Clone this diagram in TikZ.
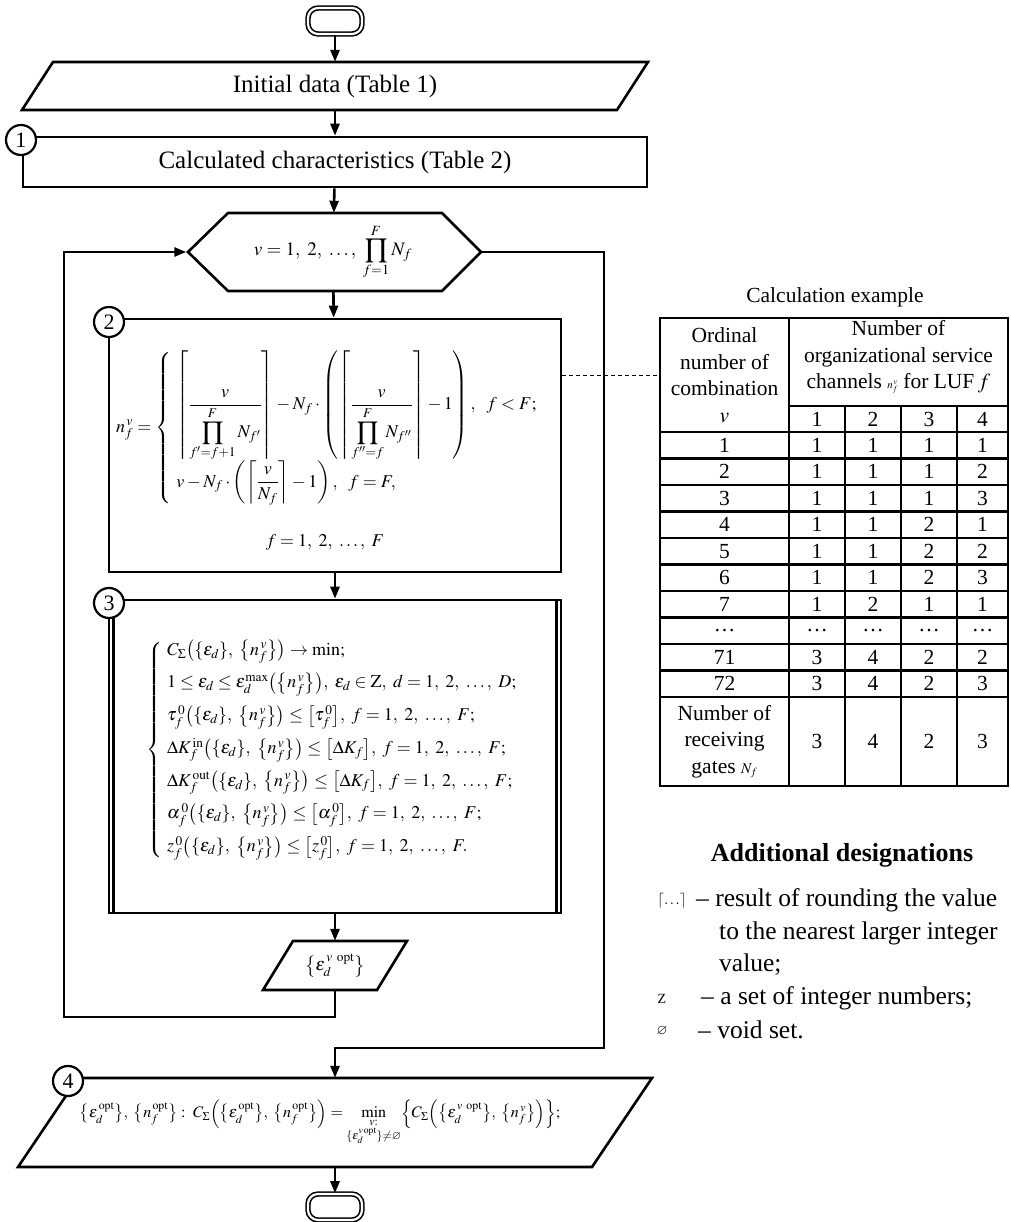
\documentclass[tikz,border=0pt]{standalone}
\usepackage{amsmath}
\usepackage{amssymb}
\usepackage{mathptmx}
\usepackage{fontspec}
\setmainfont{Liberation Serif}
\usepackage{tikz}
\usetikzlibrary{calc}
\usetikzlibrary{arrows.meta,positioning}

\newcommand{\epsD}{\{\varepsilon_d\}}
\newcommand{\nFV}{\bigl\{n_f^{\,v}\bigr\}}

\begin{document}
\begin{tikzpicture}[x=1pt, y=-1pt,
    every node/.style={font=\fontsize{25}{29}\selectfont},
    blk/.style={draw, line width=2.6pt, inner sep=0pt},
    ln/.style={line width=2.6pt, line join=miter},
    arr/.style={line width=2.6pt, -{Triangle[length=12pt,width=9pt]}},
    num/.style={circle, draw, line width=2.2pt, fill=white, inner sep=0pt, minimum size=30pt, font=\fontsize{22}{22}\selectfont},
    term/.style={draw, double, double distance=2.2pt, line width=1.6pt, rounded corners=10pt, minimum width=54pt, minimum height=26pt},
    tab/.style={line width=2.2pt},
    cell/.style={inner sep=0pt, align=center, font=\fontsize{21.5}{26.5}\selectfont},
    frm/.style={inner sep=0pt, font=\fontsize{18}{21}\selectfont},
    dsg/.style={anchor=west, inner sep=0pt, font=\fontsize{25.5}{30}\selectfont}]
    \useasboundingbox (0,0) rectangle (1010,1222);

    % flowchart
    \node[term] (start) at (335,21) {};
    \node[inner sep=0pt, minimum width=560pt, minimum height=48pt] (init) at (335,86) {Initial data (Table 1)};
    \draw[ln] (53,62) -- (648,62) -- (617,110) -- (22,110) -- cycle;
    \node[blk, minimum width=624pt, minimum height=50pt] (calc) at (335,162) {Calculated characteristics (Table 2)};

    \node[frm, font=\fontsize{19}{22}\selectfont, minimum width=293pt, minimum height=78pt] (vloop) at (333,252) {$\displaystyle v = 1,\ 2,\ \ldots,\ \prod_{f=1}^{F} N_f$};
    \draw[ln] (188,252) -- (228,213) -- (442,213) -- (481,252) -- (442,291) -- (228,291) -- cycle;

    \node[blk, minimum width=452pt, minimum height=253pt] (split) at (335,445.5) {};
    \node[frm, anchor=west] (nfv) at (116,428) {$\displaystyle n_f^{\,v} = \left\{\begin{array}{l}
        \left\lceil \dfrac{v}{\displaystyle\prod_{f'=f+1}^{F} N_{f'}} \right\rceil - N_f \cdot \left( \left\lceil \dfrac{v}{\displaystyle\prod_{f''=f}^{F} N_{f''}} \right\rceil - 1 \right),\ \ f < F;\\[18pt]
        v - N_f \cdot \left( \left\lceil \dfrac{v}{N_f} \right\rceil - 1 \right),\ \ f = F,
        \end{array}\right.$};
    \node[frm] (frange) at (325,542) {$f = 1,\ 2,\ \ldots,\ F$};

    \node[blk, minimum width=452pt, minimum height=313pt] (optim) at (335,756.5) {};
    \draw[ln] ([xshift=6pt]optim.north west) -- ([xshift=6pt]optim.south west);
    \draw[ln] ([xshift=-6pt]optim.north east) -- ([xshift=-6pt]optim.south east);
    \node[frm, anchor=west] (task) at (146,750) {$\left\{\begin{array}{l}
        C_\Sigma\bigl(\epsD,\ \nFV\bigr) \to \min;\\[11pt]
        1 \le \varepsilon_d \le \varepsilon_d^{\max}\bigl(\nFV\bigr),\ \varepsilon_d \in \mathrm{Z},\ d = 1,\ 2,\ \ldots,\ D;\\[11pt]
        \tau_f^{\,0}\bigl(\epsD,\ \nFV\bigr) \le \bigl[\tau_f^{\,0}\bigr],\ f = 1,\ 2,\ \ldots,\ F;\\[11pt]
        \Delta K_f^{\,\mathrm{in}}\bigl(\epsD,\ \nFV\bigr) \le \bigl[\Delta K_f\bigr],\ f = 1,\ 2,\ \ldots,\ F;\\[11pt]
        \Delta K_f^{\,\mathrm{out}}\bigl(\epsD,\ \nFV\bigr) \le \bigl[\Delta K_f\bigr],\ f = 1,\ 2,\ \ldots,\ F;\\[11pt]
        \alpha_f^{\,0}\bigl(\epsD,\ \nFV\bigr) \le \bigl[\alpha_f^{\,0}\bigr],\ f = 1,\ 2,\ \ldots,\ F;\\[11pt]
        z_f^{\,0}\bigl(\epsD,\ \nFV\bigr) \le \bigl[z_f^{\,0}\bigr],\ f = 1,\ 2,\ \ldots,\ F.
        \end{array}\right.$};

    \node[frm, minimum width=110pt, minimum height=49pt] (eopt) at (335,965.5) {$\bigl\{\varepsilon_d^{\,v\ \mathrm{opt}}\bigr\}$};
    \draw[ln] (293,941) -- (407,941) -- (377,990) -- (263,990) -- cycle;

    \node[frm, font=\fontsize{16}{19}\selectfont, minimum width=560pt, minimum height=89pt] (result) at (335,1122.5) {$\displaystyle \bigl\{\varepsilon_d^{\,\mathrm{opt}}\bigr\},\ \bigl\{n_f^{\,\mathrm{opt}}\bigr\}:\ C_\Sigma\Bigl(\bigl\{\varepsilon_d^{\,\mathrm{opt}}\bigr\},\ \bigl\{n_f^{\,\mathrm{opt}}\bigr\}\Bigr) = \min_{\substack{v:\\ \{\varepsilon_d^{v\,\mathrm{opt}}\} \ne \varnothing}} \Bigl\{C_\Sigma\Bigl(\bigl\{\varepsilon_d^{\,v\ \mathrm{opt}}\bigr\},\ \nFV\Bigr)\Bigr\};$\hspace*{30pt}};
    \draw[ln] (78,1078) -- (652,1078) -- (592,1167) -- (18,1167) -- cycle;
    \node[term] (stop) at (335,1207) {};

    \node[num] (c1) at (21,140) {1};
    \node[num] (c2) at (109,322) {2};
    \node[num] (c3) at (109,603) {3};
    \node[num] (c4) at (68,1081) {4};

    \draw[arr] (start) -- (init);
    \draw[arr] (init) -- (calc);
    \draw[arr] (calc) -- (vloop);
    \draw[arr] (vloop) -- (split);
    \draw[arr] (split) -- (optim);
    \draw[arr] (optim) -- (eopt);
    \coordinate (back) at (64,1017);
    \draw[arr] (eopt) |- (back) |- (vloop.west);
    \coordinate (exit) at (604,1048);
    \draw[arr] (vloop.east) -| (exit) -| (result);
    \draw[arr] (result) -- (stop);

    % calculation example
    \node[cell] (title) at (835,297) {Calculation example};
    \node[cell, minimum width=129pt, minimum height=114pt] (ord) at (724.5,375) {Ordinal\\number of\\combination\\$v$};
    \node[cell] (chan) at (898.5,357) {Number of\\organizational service\\channels {\fontsize{11}{11}\selectfont$n_f^{\,v}$} for LUF\,$f$};
    \draw[line width=1pt, dash pattern=on 4pt off 3pt] (split.east |- ord.west) -- (ord.west);
    \draw[tab] (660,318) rectangle (1008,786);
    \draw[tab] (789,318) -- (789,786);
    \draw[tab] (789,406) -- (1008,406);
    \foreach \x in {845,901,957}
        \draw[tab] (\x,406) -- (\x,786);
    \foreach \k in {0,...,10}
        \draw[tab] (660,{432+26.5*\k}) -- (1008,{432+26.5*\k});
    \foreach \n/\x in {1/817,2/873,3/929,4/982.5}
        \node[cell] (h\n) at (\x,419) {\n};
    \foreach \v/\a/\b/\c/\d [count=\i] in {1/1/1/1/1, 2/1/1/1/2, 3/1/1/1/3, 4/1/1/2/1, 5/1/1/2/2, 6/1/1/2/3, 7/1/2/1/1, \dots/\dots/\dots/\dots/\dots, 71/3/4/2/2, 72/3/4/2/3} {
        \node[cell] (v\i) at (724.5,{418.75+26.5*\i}) {\v};
        \node[cell] (a\i) at (817,{418.75+26.5*\i}) {\a};
        \node[cell] (b\i) at (873,{418.75+26.5*\i}) {\b};
        \node[cell] (c\i) at (929,{418.75+26.5*\i}) {\c};
        \node[cell] (d\i) at (982.5,{418.75+26.5*\i}) {\d};
    }
    \node[cell] (gates) at (724.5,741.5) {Number of\\receiving\\gates {\fontsize{15}{15}\selectfont$N_f$}};
    \foreach \n/\x/\g in {1/817/3, 2/873/4, 3/929/2, 4/982.5/3}
        \node[cell] (g\n) at (\x,741.5) {\g};

    % additional designations
    \node[font=\bfseries\fontsize{26}{30}\selectfont] (add) at (842,855) {Additional designations};
    \node[inner sep=0pt, font=\fontsize{15}{15}\selectfont] (s1) at (672,901) {$\lceil\ldots\rceil$};
    \node[dsg] (d1) at (696,900) {-- result of rounding the value};
    \node[dsg] (d1b) at (719,933) {to the nearest larger integer};
    \node[dsg] (d1c) at (719,965) {value;};
    \node[inner sep=0pt, font=\fontsize{14}{14}\selectfont] (s2) at (662,999) {Z};
    \node[dsg] (d2) at (701,998) {-- a set of integer numbers;};
    \node[inner sep=0pt, font=\fontsize{14}{14}\selectfont] (s3) at (662,1031) {$\varnothing$};
    \node[dsg] (d3) at (698,1030) {-- void set.};
\end{tikzpicture}
\end{document}
